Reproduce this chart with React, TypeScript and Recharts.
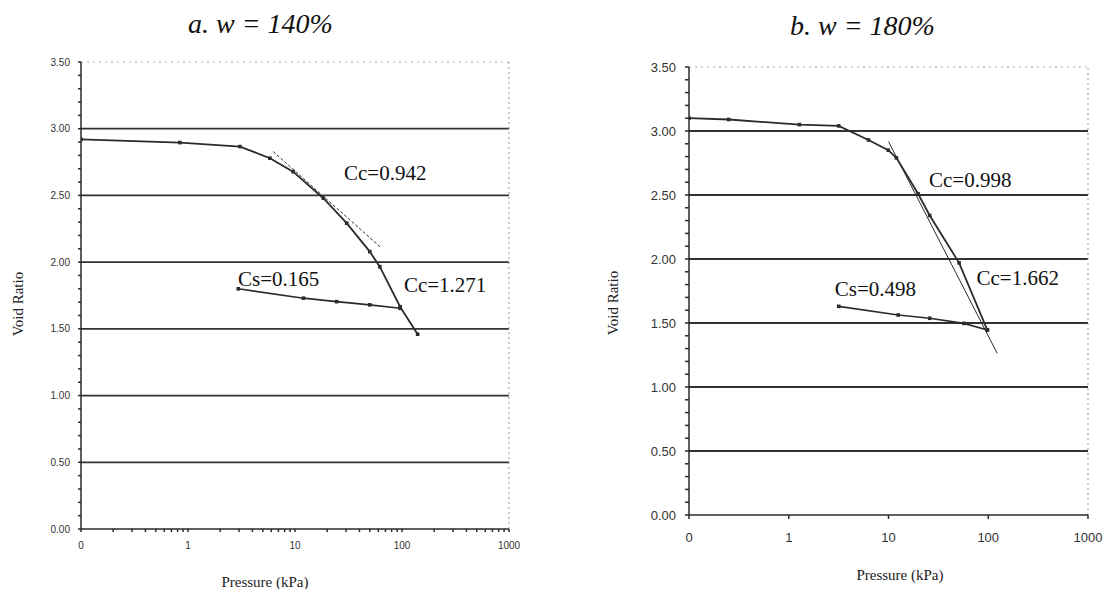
import React from 'react';
import {
  LineChart,
  Line,
  XAxis,
  YAxis,
  ReferenceLine,
  ReferenceDot
} from 'recharts';

// values (pressure kPa, void ratio)
const leftLoading = [
  { p: 0.1, e: 2.92 }, { p: 0.84, e: 2.896 }, { p: 3.06, e: 2.866 }, { p: 5.83, e: 2.779 },
  { p: 9.6, e: 2.678 }, { p: 18.4, e: 2.479 }, { p: 30.4, e: 2.292 }, { p: 50, e: 2.079 },
  { p: 62, e: 1.966 }, { p: 96, e: 1.666 }, { p: 140, e: 1.46 }
];
const leftTangent = [{ p: 6.27, e: 2.828 }, { p: 64.6, e: 2.104 }];
const leftSwelling = [
  { p: 2.95, e: 1.8 }, { p: 12, e: 1.73 }, { p: 24.5, e: 1.704 }, { p: 50, e: 1.68 }, { p: 96, e: 1.654 }
];
const leftNotes = [
  { p: 28.1, e: 2.669, text: 'Cc=0.942' },
  { p: 2.87, e: 1.874, text: 'Cs=0.165' },
  { p: 102, e: 1.829, text: 'Cc=1.271' }
];

const rightLoading = [
  { p: 0.1, e: 3.1 }, { p: 0.25, e: 3.09 }, { p: 1.28, e: 3.05 }, { p: 3.17, e: 3.04 },
  { p: 6.3, e: 2.93 }, { p: 9.95, e: 2.85 }, { p: 12, e: 2.79 }, { p: 19.8, e: 2.51 },
  { p: 25.9, e: 2.34 }, { p: 51, e: 1.97 }, { p: 98, e: 1.445 }
];
const rightTangent = [{ p: 10, e: 2.917 }, { p: 123, e: 1.263 }];
const rightSwelling = [
  { p: 3.17, e: 1.63 }, { p: 12.5, e: 1.5625 }, { p: 25.9, e: 1.537 }, { p: 57, e: 1.497 }, { p: 98, e: 1.445 }
];
const rightNotes = [
  { p: 24.9, e: 2.617, text: 'Cc=0.998' },
  { p: 74.6, e: 1.852, text: 'Cc=1.662' },
  { p: 2.83, e: 1.773, text: 'Cs=0.498' }
];

const majorPressure = [0.1, 1, 10, 100, 1000];
const minorPressure = [0.1, 1, 10, 100].flatMap(d => [2, 3, 4, 5, 6, 7, 8, 9].map(m => +(d * m).toPrecision(3)));
const voidTicks = Array.from({ length: 36 }, (_, i) => +(i * 0.1).toFixed(1));
const gridLevels = [0.5, 1, 1.5, 2, 2.5, 3];

const INK = '#2b2b2b';
const SERIF = "'Liberation Serif', 'Times New Roman', serif";
const SANS = "'Liberation Sans', Arial, sans-serif";

const SquareDot = (props: any) => {
  const { cx, cy } = props;
  if (cx == null || cy == null) return null;
  return <rect x={cx - 1.8} y={cy - 1.8} width={3.6} height={3.6} fill={INK} />;
};

interface PanelProps {
  left: number;
  width: number;
  margin: { top: number; right: number; bottom: number; left: number };
  yAxisWidth: number;
  loading: { p: number; e: number }[];
  tangent: { p: number; e: number }[];
  tangentDash?: string;
  swelling: { p: number; e: number }[];
  notes: { p: number; e: number; text: string }[];
  tickSize: number;
  tickFont: number;
  xTickGap: number;
  yTickGap: number;
  minorX: boolean;
}

const Panel: React.FC<PanelProps> = ({
  left, width, margin, yAxisWidth, loading, tangent, tangentDash, swelling, notes,
  tickSize, tickFont, xTickGap, yTickGap, minorX
}) => {
  const tickStyle = { fill: '#333', fontSize: tickFont, fontFamily: SANS };
  return (
    <div style={{ position: 'absolute', left, top: 0 }}>
      <LineChart width={width} height={589} margin={margin}>
        <XAxis
          dataKey="p"
          type="number"
          scale="log"
          domain={[0.1, 1000]}
          ticks={minorX ? [...majorPressure, ...minorPressure].sort((a, b) => a - b) : majorPressure}
          tickFormatter={(v: number) => (majorPressure.includes(v) ? (v === 0.1 ? '0' : String(v)) : '')}
          tick={tickStyle}
          tickSize={tickSize}
          tickMargin={xTickGap}
          height={30}
          stroke={INK}
          strokeWidth={1.5}
          interval={0}
          allowDataOverflow
        />
        <YAxis
          type="number"
          domain={[0, 3.5]}
          ticks={voidTicks}
          tickFormatter={(v: number) => (Math.round(v * 10) % 5 === 0 ? v.toFixed(2) : '')}
          tick={tickStyle}
          tickSize={tickSize}
          tickMargin={yTickGap}
          width={yAxisWidth}
          stroke={INK}
          strokeWidth={1.5}
          interval={0}
        />
        {gridLevels.map(g => (
          <ReferenceLine key={g} y={g} stroke="#333" strokeWidth={1.8} />
        ))}
        <ReferenceLine y={3.5} stroke="#aaa" strokeDasharray="2 4" />
        <ReferenceLine x={1000} stroke="#999" strokeDasharray="2 3" />
        <Line
          data={tangent}
          dataKey="e"
          stroke={INK}
          strokeWidth={1}
          strokeDasharray={tangentDash}
          dot={false}
          isAnimationActive={false}
        />
        <Line
          data={swelling}
          dataKey="e"
          stroke={INK}
          strokeWidth={1.6}
          dot={<SquareDot />}
          isAnimationActive={false}
        />
        <Line
          data={loading}
          dataKey="e"
          stroke={INK}
          strokeWidth={1.8}
          dot={<SquareDot />}
          isAnimationActive={false}
        />
        {notes.map(n => (
          <ReferenceDot
            key={n.text}
            x={n.p}
            y={n.e}
            r={1}
            fill="none"
            stroke="none"
            label={{ value: n.text, position: 'right', offset: 0, fill: '#111', fontSize: 21, fontFamily: SERIF }}
          />
        ))}
      </LineChart>
    </div>
  );
};

const App: React.FC = () => {
  return (
    <div style={{ position: 'absolute', left: 0, top: 0, width: 1105, height: 589, background: '#fff', overflow: 'hidden' }}>
      <Panel
        left={0}
        width={530}
        margin={{ top: 62, right: 21, bottom: 30, left: 41 }}
        yAxisWidth={40}
        loading={leftLoading}
        tangent={leftTangent}
        tangentDash="3 2"
        swelling={leftSwelling}
        notes={leftNotes}
        tickSize={3}
        tickFont={10}
        xTickGap={10}
        yTickGap={8}
        minorX
      />
      <Panel
        left={560}
        width={545}
        margin={{ top: 67, right: 17, bottom: 44, left: 79 }}
        yAxisWidth={50}
        loading={rightLoading}
        tangent={rightTangent}
        swelling={rightSwelling}
        notes={rightNotes}
        tickSize={4}
        tickFont={13}
        xTickGap={14}
        yTickGap={9}
        minorX={false}
      />
      <svg width={1105} height={589} style={{ position: 'absolute', left: 0, top: 0, pointerEvents: 'none' }}>
        <text x={188} y={33} fontFamily={SERIF} fontStyle="italic" fontSize={28} fill="#111">a. w = 140%</text>
        <text x={790} y={35} fontFamily={SERIF} fontStyle="italic" fontSize={28} fill="#111">b. w = 180%</text>
        <text x={18} y={304} transform="rotate(-90 18 304)" textAnchor="middle" dominantBaseline="central" style={{ fontFamily: SERIF, fontSize: 15 }} fill="#222">Void Ratio</text>
        <text x={613} y={303} transform="rotate(-90 613 303)" textAnchor="middle" dominantBaseline="central" style={{ fontFamily: SERIF, fontSize: 15 }} fill="#222">Void Ratio</text>
        <text x={265} y={582} textAnchor="middle" dominantBaseline="central" style={{ fontFamily: SERIF, fontSize: 15 }} fill="#222">Pressure (kPa)</text>
        <text x={900} y={575} textAnchor="middle" dominantBaseline="central" style={{ fontFamily: SERIF, fontSize: 15 }} fill="#222">Pressure (kPa)</text>
      </svg>
    </div>
  );
};

export default App;
